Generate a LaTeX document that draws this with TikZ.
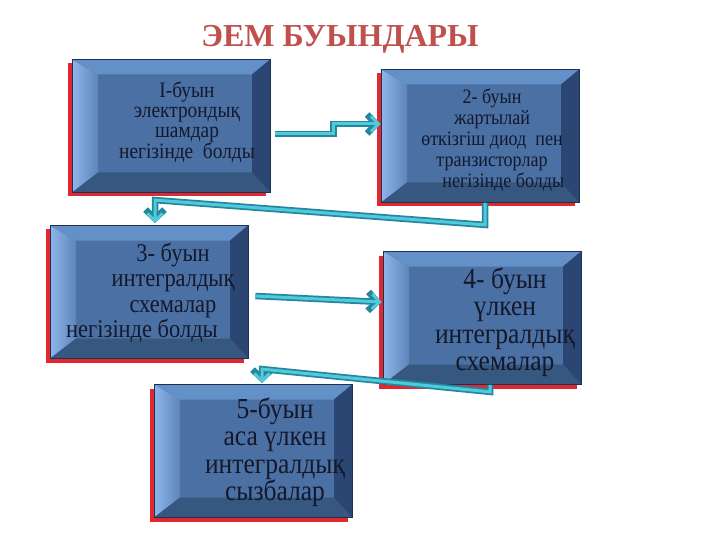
\documentclass[tikz,border=0pt]{standalone}
\usepackage{fontspec}
\setmainfont{Liberation Serif}
\newfontfamily\altafont[FakeStretch=0.88]{Liberation Serif}
\usepackage{xcolor}
\usepackage{tikz}
\usetikzlibrary{arrows.meta,positioning,shadows}
\definecolor{titulo}{HTML}{C0504D}
\definecolor{cara}{HTML}{4A70A4}
\definecolor{borde}{HTML}{1E3152}
\definecolor{sombra}{HTML}{E0282E}
\definecolor{biselc}{HTML}{8DB6EA}
\definecolor{biselt}{HTML}{6490C8}
\definecolor{biselr}{HTML}{2B4672}
\definecolor{biselb}{HTML}{36577F}
\definecolor{tubo}{HTML}{23889C}
\definecolor{tuboc}{HTML}{52C9DD}
\definecolor{letra}{HTML}{14182A}

\begin{document}
\begin{tikzpicture}[x=1pt, y=-1pt,
      caja/.style={rectangle, draw=borde, line width=0.8pt, fill=cara, inner sep=0pt,
                   minimum width=198pt, minimum height=133pt,
                   general shadow={shadow xshift=-4pt, shadow yshift=-4pt, fill=sombra},
                   path picture={
                     \path (path picture bounding box.north west) coordinate (pnw)
                           (path picture bounding box.north east) coordinate (pne)
                           (path picture bounding box.south east) coordinate (pse)
                           (path picture bounding box.south west) coordinate (psw);
                     \path ([shift={(26pt,-15pt)}]pnw) coordinate (inw)
                           ([shift={(-18pt,-15pt)}]pne) coordinate (ine)
                           ([shift={(-18pt,20pt)}]pse) coordinate (ise)
                           ([shift={(26pt,20pt)}]psw) coordinate (isw);
                     \shade[left color=biselc, right color=cara!70!biselc] (pnw) -- (psw) -- (isw) -- (inw) -- cycle;
                     \fill[biselt] (pnw) -- (pne) -- (ine) -- (inw) -- cycle;
                     \fill[biselr] (pne) -- (pse) -- (ise) -- (ine) -- cycle;
                     \fill[biselb] (psw) -- (pse) -- (ise) -- (isw) -- cycle;}},
      texto/.style={align=center, text=letra, inner sep=0pt, font=\altafont\fontsize{22}{20}\selectfont},
      textom/.style={texto, font=\altafont\fontsize{20.5}{21}\selectfont},
      textog/.style={texto, font=\altafont\fontsize{25.5}{25.5}\selectfont},
      textoxg/.style={texto, font=\altafont\fontsize{29}{27.5}\selectfont},
      tubo/.style={draw=tubo, line width=6.5pt, line join=miter,
                   -{Straight Barb[length=9pt, width=19pt]},
                   postaction={draw=tuboc, line width=3pt,
                               -{Straight Barb[length=7.5pt, width=15pt]}}},
      rotulo/.style={text=titulo, font=\fontsize{32}{36}\selectfont\bfseries}]

    \useasboundingbox (0,0) rectangle (720,540);

    \node[rotulo] (tit) at (340,39) {ЭЕМ БУЫНДАРЫ};

    \node[caja] (b1) at (171,126) {};
    \node[caja] (b2) at (480,136) {};
    \node[caja] (b3) at (149,292) {};
    \node[caja] (b4) at (482,318) {};
    \node[caja] (b5) at (253,451) {};

    \node[texto] (t1) at ([xshift=16pt,yshift=4pt]b1) {І-буын\\электрондық\\шамдар\\негізінде\ \ болды};
    \node[textom] (t2) at ([xshift=12pt,yshift=-4pt]b2) {2- буын\\жартылай\\өткізгіш диод\ \ пен\\транзисторлар\\\ \ \ \ \ негізінде болды};
    \node[textog] (t3) at ([xshift=24pt,yshift=-1pt]b3) {3- буын\\интегралдық\\схемалар\\негізінде болды\hspace*{62pt}};
    \node[textoxg] (t4) at ([xshift=23pt,yshift=-4pt]b4) {4- буын\\үлкен\\интегралдық\\схемалар};
    \node[textoxg] (t5) at ([xshift=22pt,yshift=-1pt]b5) {5-буын\\аса үлкен\\интегралдық\\сызбалар};

    \draw[tubo] ([xshift=5pt,yshift=-8pt]b1.east) -- ++(58,0) |- ([yshift=12pt]b2.west);
    \draw[tubo] ([xshift=5pt]b2.south) -- ++(0,22) -- ([xshift=6pt,yshift=25pt]b3.north) -- ([xshift=6pt,yshift=2pt]b3.north);
    \draw[tubo] ([shift={(7pt,-4pt)}]b3.east) -- ([xshift=-1pt,yshift=16pt]b4.west);
    \draw[tubo] ([xshift=8pt]b4.south) -- ++(0,7) -- ([xshift=9pt,yshift=15pt]b5.north) -- ([xshift=9pt,yshift=1pt]b5.north);
  \end{tikzpicture}
\end{document}
